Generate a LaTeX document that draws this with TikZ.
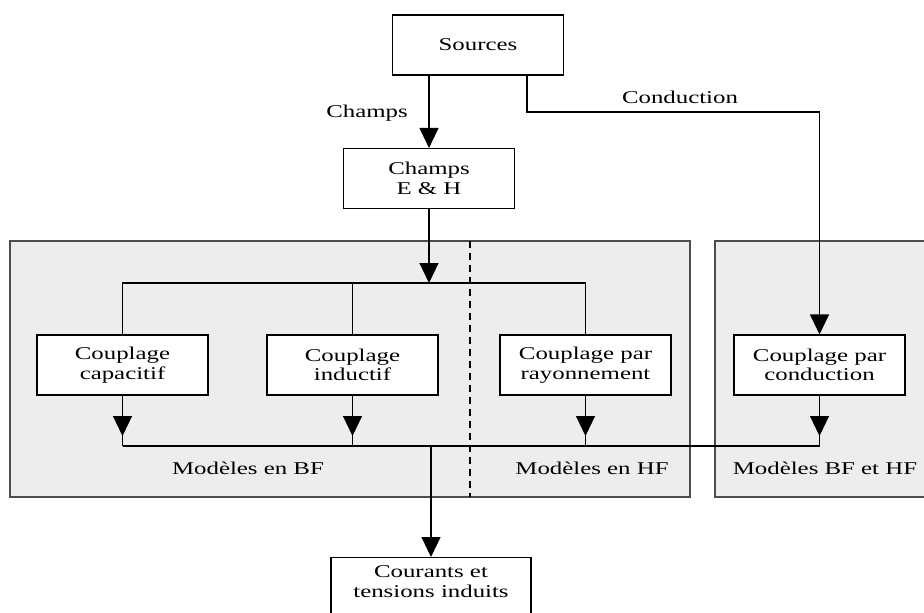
\documentclass[tikz,border=0pt]{standalone}
\usepackage{fontspec}
\setmainfont[FakeStretch=1.38]{Liberation Serif}
\usetikzlibrary{arrows.meta,calc}
\tikzset{
  box/.style={draw=black, fill=white, line width=1.1pt, minimum width=171pt, minimum height=60pt, align=center, inner sep=0pt, font=\fontsize{18}{19.5}\selectfont},
  zone/.style={draw=black!70, fill=black!7, line width=1.1pt},
  lbl/.style={font=\fontsize{18}{19.5}\selectfont, inner sep=0pt},
  conn/.style={line width=1.1pt},
  arr/.style={line width=1.1pt, -{Triangle[width=19pt,length=20pt]}}
}
\begin{document}
\begin{tikzpicture}[x=1pt,y=-1pt]
\clip (0,0) rectangle (924,613);
\fill[white] (0,0) rectangle (924,613);
% zones
\draw[zone] (10,241) rectangle (690,497);
\draw[zone] (715,241) rectangle (940,497);
\draw[line width=1.1pt, dashed, dash pattern=on 7pt off 5pt] (470,241) -- (470,497);
% boxes
\node[box] (src) at (478,45) {Sources};
\node[box] (eh) at (429,178.5) {Champs\\E \& H};
\node[box] (cap) at (122.5,365) {Couplage\\capacitif};
\node[box] (ind) at (352.5,365) {Couplage\\inductif};
\node[box] (ray) at (585.5,365) {Couplage par\\rayonnement};
\node[box] (cond) at (819.5,365) {Couplage par\\conduction};
\node[box, minimum width=200pt, minimum height=62pt, anchor=north, text depth=14pt] (out) at (431,557) {Courants et\\tensions induits};
% labels
\node[lbl] (lchamps) at (367,113) {Champs};
\node[lbl] (lcond) at (680,97) {Conduction};
\node[lbl] (lbf) at (248,468) {Modèles en BF};
\node[lbl] (lhf) at (592,468) {Modèles en HF};
\node[lbl] (lbfhf) at (825,468) {Modèles BF et HF};
% coordinates
\coordinate (top) at (0,283);
\coordinate (bus) at (0,446);
\coordinate (cturn) at (527,112);
% connectors
\draw[arr] (src.south -| eh.north) -- (eh.north);
\draw[conn] (src.south -| cturn) -- (cturn) -- (cturn -| cond.north);
\draw[arr] (cturn -| cond.north) -- (cond.north);
\draw[arr] (eh.south) -- (eh.south |- top);
\draw[conn] (cap.north) -- (cap.north |- top) -- (ray.north |- top) -- (ray.north);
\draw[conn] (ind.north) -- (ind.north |- top);
\foreach \b in {cap,ind,ray,cond}{
  \draw[arr] (\b.south) -- ($(\b.south |- bus)+(0,-10)$);
  \draw[conn] (\b.south) -- (\b.south |- bus);
}
\draw[conn] (cap.south |- bus) -- (cond.south |- bus);
\draw[arr] (out.north |- bus) -- (out.north);
\end{tikzpicture}
\end{document}
